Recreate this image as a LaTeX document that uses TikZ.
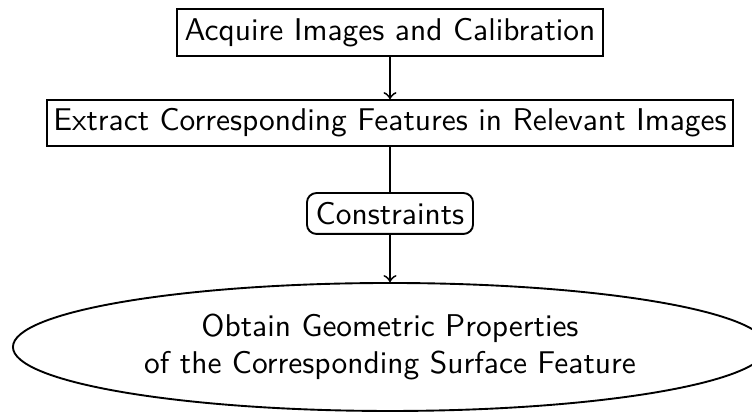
\documentclass[tikz,border=0pt]{standalone}
\usetikzlibrary{shapes.geometric}
\begin{document}
\begin{tikzpicture}[x=0.318pt,y=-0.318pt,
  every node/.style={font=\sffamily, line width=0.6pt},
  boxnode/.style={draw, rectangle, inner sep=0pt, align=center},
  roundnode/.style={draw, rectangle, rounded corners=3pt, inner sep=0pt, align=center},
  ovalnode/.style={draw, ellipse, inner sep=0pt, align=center},
  conn/.style={line width=0.6pt},
  arr/.style={conn, ->}]
\useasboundingbox (0,0) rectangle (752,412);
\node[boxnode, minimum width=135.5pt, minimum height=14.9pt] (acq) at (390,32.5) {Acquire Images and Calibration};
\node[boxnode, minimum width=218.1pt, minimum height=14.6pt] (ext) at (390,123) {Extract Corresponding Features in Relevant Images};
\node[roundnode, minimum width=52.8pt, minimum height=13.0pt] (con) at (390,213.5) {Constraints};
\node[ovalnode, minimum width=239.8pt, minimum height=40.7pt] (obt) at (390,347) {Obtain Geometric Properties\\of the Corresponding Surface Feature};
\draw[arr] (acq) -- (ext);
\draw[conn] (ext) -- (con);
\draw[arr] (con) -- (obt);
\end{tikzpicture}
\end{document}
